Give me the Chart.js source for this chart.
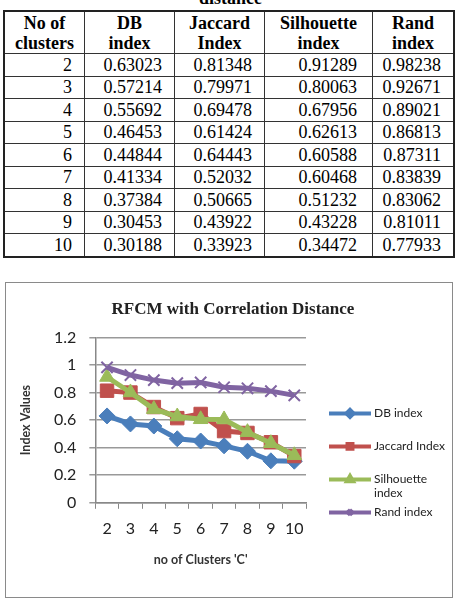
<!DOCTYPE html>
<html>
<head>
<meta charset="utf-8">
<script src="https://cdn.jsdelivr.net/npm/chart.js@4.4.0/dist/chart.umd.min.js"></script>
<style>
  body { margin: 0; background: #fff; width: 461px; height: 605px; position: relative; overflow: hidden; }
  .cap { position: absolute; top: -12px; left: 0; width: 461px; text-align: center; font: bold 18px "Liberation Serif", serif; }
  table { position: absolute; left: 3px; top: 10px; width: 452px; table-layout: fixed; border-collapse: collapse; font: 18px "Liberation Serif", serif; border: 2px solid #222; }
  th, td { border: 1px solid #333; padding: 0 12px 0 0; }
  th { font-weight: bold; text-align: center; line-height: 20px; height: 41px; padding: 0; }
  td { height: 21.5px; line-height: 20px; text-align: right; }
  #box { position: absolute; left: 5px; top: 282px; width: 446px; height: 314px; border: 1px solid #8a8a8a; }
</style>
</head>
<body>
<div class="cap">distance</div>
<table id="tbl"></table>
<div id="box"><canvas id="myChart" width="446" height="314"></canvas></div>
<script>
var clusters = ['2', '3', '4', '5', '6', '7', '8', '9', '10'];
var dbIndex = [0.63023, 0.57214, 0.55692, 0.46453, 0.44844, 0.41334, 0.37384, 0.30453, 0.30188];
var jaccardIndex = [0.81348, 0.79971, 0.69478, 0.61424, 0.64443, 0.52032, 0.50665, 0.43922, 0.33923];
var silhouetteIndex = [0.91289, 0.80063, 0.67956, 0.62613, 0.60588, 0.60468, 0.51232, 0.43228, 0.34472];
var randIndex = [0.98238, 0.92671, 0.89021, 0.86813, 0.87311, 0.83839, 0.83062, 0.81011, 0.77933];
var yTicks = [0, 0.2, 0.4, 0.6, 0.8, 1, 1.2];

// table
var tbl = document.getElementById('tbl');
var head = '<tr><th style="width:79px">No of<br>clusters</th><th style="width:89px">DB<br>index</th>' +
  '<th style="width:89px">Jaccard<br>Index</th><th style="width:107px">Silhouette<br>index</th><th>Rand<br>index</th></tr>';
var rows = '';
for (var i = 0; i < clusters.length; i++) {
  rows += '<tr><td>' + clusters[i] + '</td><td>' + dbIndex[i].toFixed(5) + '</td><td>' +
    jaccardIndex[i].toFixed(5) + '</td><td style="padding-right:15px">' + silhouetteIndex[i].toFixed(5) +
    '</td><td>' + randIndex[i].toFixed(5) + '</td></tr>';
}
tbl.innerHTML = head + rows;

// legend drawn like the excel one, line + marker + wrapped text
var legendLines = {
  'Silhouette index': ['Silhouette', 'index']
};
var excelLegend = {
  id: 'excelLegend',
  afterDraw: function(chart) {
    var ctx = chart.ctx;
    var area = chart.chartArea;
    var x0 = 323, x1 = 365;
    var y = area.top + 76;
    ctx.save();
    ctx.font = '12px Lato';
    ctx.textBaseline = 'middle';
    chart.data.datasets.forEach(function(ds) {
      ctx.strokeStyle = ds.borderColor;
      ctx.lineWidth = 4;
      ctx.beginPath();
      ctx.moveTo(x0, y);
      ctx.lineTo(x1, y);
      ctx.stroke();
      ctx.fillStyle = ds.borderColor;
      Chart.helpers.drawPoint(ctx, {pointStyle: ds.pointStyle, radius: 3.5, borderWidth: 1.5, rotation: 0}, (x0 + x1) / 2, y);
      ctx.fillStyle = '#222';
      var lines = legendLines[ds.label] || [ds.label];
      lines.forEach(function(t, k) {
        ctx.fillText(t, x1 + 3, y + k * 14);
      });
      y += 33;
    });
    ctx.restore();
  }
};

var ctx = document.getElementById('myChart').getContext('2d');
var myChart = new Chart(ctx, {
  type: 'line',
  data: {
    labels: clusters,
    datasets: [{
      label: 'DB index',
      data: dbIndex,
      borderColor: '#4A7EBB',
      backgroundColor: '#4A7EBB',
      pointStyle: 'rectRot',
      pointRadius: 8,
      order: 4
    }, {
      label: 'Jaccard Index',
      data: jaccardIndex,
      borderColor: '#C0504D',
      backgroundColor: '#C0504D',
      pointStyle: 'rect',
      pointRadius: 9.5,
      order: 3
    }, {
      label: 'Silhouette index',
      data: silhouetteIndex,
      borderColor: '#9BBB59',
      backgroundColor: '#9BBB59',
      pointStyle: 'triangle',
      pointRadius: 8.5,
      order: 2
    }, {
      label: 'Rand index',
      data: randIndex,
      borderColor: '#8064A2',
      backgroundColor: '#8064A2',
      pointStyle: 'crossRot',
      pointRadius: 8,
      pointBorderWidth: 2,
      order: 1
    }]
  },
  options: {
    responsive: false,
    animation: false,
    elements: {
      line: { borderWidth: 5, tension: 0 }
    },
    layout: { padding: { left: 8, right: 0, top: 0, bottom: 26 } },
    plugins: {
      legend: { display: false },
      tooltip: { enabled: false },
      title: {
        display: true,
        text: 'RFCM with Correlation Distance',
        color: '#222',
        font: { family: 'Liberation Serif', size: 17, weight: 'bold' },
        padding: { top: 16, bottom: 18 }
      }
    },
    scales: {
      x: {
        offset: true,
        grid: { display: true, offset: true, drawOnChartArea: false, tickLength: 6, color: '#888' },
        border: { color: '#888', width: 1.5 },
        ticks: { color: '#222', padding: 10, maxRotation: 0, minRotation: 0, autoSkip: false, font: { family: 'Lato', size: 16 } },
        title: { display: true, text: "no of Clusters 'C'", color: '#333', font: { family: 'Lato', size: 12.5, weight: 'bold' }, padding: { top: 4 } }
      },
      y: {
        min: 0,
        max: 1.2,
        afterBuildTicks: function(scale) {
          scale.ticks = yTicks.map(function(v) { return { value: v }; });
        },
        grid: { color: '#999', lineWidth: 1.5, tickLength: 6 },
        border: { color: '#888', width: 1.5 },
        ticks: {
          color: '#222', padding: 13, font: { family: 'Lato', size: 16 },
          callback: function(v) { return String(v); }
        },
        title: { display: true, text: 'Index Values', color: '#333', font: { family: 'Lato', size: 12.5, weight: 'bold' }, padding: { bottom: 8 } }
      },
      // empty axis on the right that keeps room for the legend
      legendSpace: {
        position: 'right',
        axis: 'y',
        grid: { display: false },
        border: { display: false },
        ticks: { display: false },
        afterFit: function(scale) { scale.width = 146; }
      }
    }
  },
  plugins: [excelLegend]
});
</script>
</body>
</html>
